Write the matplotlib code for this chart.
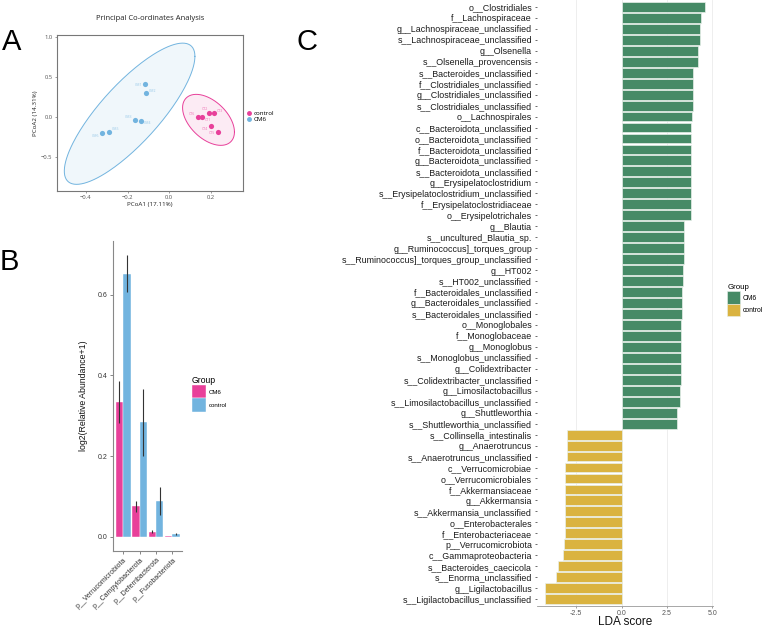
import numpy as np
import matplotlib
matplotlib.use('Agg')
import matplotlib.pyplot as plt
from matplotlib.patches import Patch
from matplotlib.lines import Line2D

plt.rcParams['font.family'] = ['Liberation Sans', 'DejaVu Sans']

# ---- panel A: PCoA ----
cm6_x = [-0.116, -0.112, -0.165, -0.136, -0.288, -0.324]
cm6_y = [0.41, 0.30, -0.04, -0.05, -0.195, -0.21]
cm6_lab = ['CM1', 'CM2', 'CM3', 'CM4', 'CM5', 'CM6']
ctrl_x = [0.137, 0.156, 0.194, 0.215, 0.200, 0.235]
ctrl_y = [-0.004, -0.01, 0.04, 0.04, -0.12, -0.19]
ctrl_lab = ['CT6', 'CT1', 'CT2', 'CT3', 'CT4', 'CT5']

# ---- panel B: phylum abundance ----
phyla = ['p__Verrucomicrobiota', 'p__Campylobacterota', 'p__Deferribacterota', 'p__Fusobacteriota']
b_cm6 = [0.335, 0.075, 0.012, 0.001]
b_cm6_err = [0.052, 0.014, 0.004, 0.0005]
b_ctrl = [0.652, 0.284, 0.088, 0.007]
b_ctrl_err = [0.046, 0.083, 0.035, 0.002]

# ---- panel C: LEfSe ----
lda_taxa = [
    'o__Clostridiales', 'f__Lachnospiraceae', 'g__Lachnospiraceae_unclassified',
    's__Lachnospiraceae_unclassified', 'g__Olsenella', 's__Olsenella_provencensis',
    's__Bacteroides_unclassified', 'f__Clostridiales_unclassified', 'g__Clostridiales_unclassified',
    's__Clostridiales_unclassified', 'o__Lachnospirales', 'c__Bacteroidota_unclassified',
    'o__Bacteroidota_unclassified', 'f__Bacteroidota_unclassified', 'g__Bacteroidota_unclassified',
    's__Bacteroidota_unclassified', 'g__Erysipelatoclostridium', 's__Erysipelatoclostridium_unclassified',
    'f__Erysipelatoclostridiaceae', 'o__Erysipelotrichales', 'g__Blautia',
    's__uncultured_Blautia_sp.', 'g__Ruminococcus]_torques_group', 's__Ruminococcus]_torques_group_unclassified',
    'g__HT002', 's__HT002_unclassified', 'f__Bacteroidales_unclassified',
    'g__Bacteroidales_unclassified', 's__Bacteroidales_unclassified', 'o__Monoglobales',
    'f__Monoglobaceae', 'g__Monoglobus', 's__Monoglobus_unclassified',
    'g__Colidextribacter', 's__Colidextribacter_unclassified', 'g__Limosilactobacillus',
    's__Limosilactobacillus_unclassified', 'g__Shuttleworthia', 's__Shuttleworthia_unclassified',
    's__Collinsella_intestinalis', 'g__Anaerotruncus', 's__Anaerotruncus_unclassified',
    'c__Verrucomicrobiae', 'o__Verrucomicrobiales', 'f__Akkermansiaceae',
    'g__Akkermansia', 's__Akkermansia_unclassified', 'o__Enterobacterales',
    'f__Enterobacteriaceae', 'p__Verrucomicrobiota', 'c__Gammaproteobacteria',
    's__Bacteroides_caecicola', 's__Enorma_unclassified', 'g__Ligilactobacillus',
    's__Ligilactobacillus_unclassified']
lda_score = [
    4.59, 4.37, 4.30, 4.30, 4.20, 4.20, 3.95, 3.91, 3.91, 3.91, 3.87, 3.82, 3.82, 3.82, 3.82,
    3.82, 3.80, 3.80, 3.80, 3.80, 3.45, 3.43, 3.43, 3.43, 3.38, 3.38, 3.30, 3.30, 3.30, 3.28,
    3.28, 3.28, 3.28, 3.25, 3.25, 3.19, 3.19, 3.07, 3.07,
    -3.01, -3.03, -3.03, -3.09, -3.09, -3.09, -3.09, -3.09, -3.09, -3.11, -3.18, -3.25,
    -3.51, -3.60, -4.22, -4.22]
lda_group = ['CM6' if v > 0 else 'control' for v in lda_score]

PINK = '#E8409A'
BLUE = '#72B4DF'
GREEN = '#468A66'
YELLOW = '#DAB340'

W, H = 762, 627
fig = plt.figure(figsize=(W / 100, H / 100), dpi=100)


def box(l, t, r, b):
    return [l / W, 1 - b / H, (r - l) / W, (b - t) / H]


def ellipse(x, y, n=200):
    pts = np.column_stack([x, y])
    c = pts.mean(axis=0)
    cov = np.cov(pts.T)
    rad = np.sqrt(2 * 5.786)  # 2 * F(0.95; 2, 5)
    t = np.linspace(0, 2 * np.pi, n)
    circ = np.column_stack([np.cos(t), np.sin(t)])
    e = c + rad * circ @ np.linalg.cholesky(cov).T
    return e[:, 0], e[:, 1]


# ---------------- A ----------------
afont = ['Open Sans', 'DejaVu Sans']
axA = fig.add_axes(box(56.7, 35, 242.7, 191))
for xs, ys, col in [(cm6_x, cm6_y, BLUE), (ctrl_x, ctrl_y, PINK)]:
    ex, ey = ellipse(xs, ys)
    axA.fill(ex, ey, color=col, alpha=0.1, lw=0)
    axA.plot(ex, ey, color=col, lw=0.7)
    axA.scatter(xs, ys, s=14, color=col, zorder=3, lw=0)

offs_cm6 = [(-2, -1, 'right'), (2, 1, 'left'), (-2, 2, 'right'), (2, -2, 'left'), (2, 2, 'left'), (-2, -2, 'right')]
offs_ctrl = [(-2, 2, 'right'), (2, -2, 'left'), (-1, 3, 'right'), (2, 2, 'left'), (-2, -2, 'right'), (-2, -1, 'right')]
for xs, ys, labs, offs, col in [(cm6_x, cm6_y, cm6_lab, offs_cm6, BLUE),
                                (ctrl_x, ctrl_y, ctrl_lab, offs_ctrl, PINK)]:
    for xx, yy, lb, (dx, dy, ha) in zip(xs, ys, labs, offs):
        axA.annotate(lb, (xx, yy), xytext=(dx, dy), textcoords='offset points',
                     fontsize=2.5, color=col, alpha=0.7, ha=ha, va='center', family=afont)

axA.set_xlim(-0.541, 0.354)
axA.set_ylim(-0.93, 1.02)
axA.set_xticks([-0.4, -0.2, 0.0, 0.2])
axA.set_yticks([-0.5, 0.0, 0.5, 1.0])
axA.tick_params(labelsize=4.2, length=1.5, width=0.4, colors='#555555', pad=1.5)
for lab in axA.get_xticklabels() + axA.get_yticklabels():
    lab.set_family(afont)
for s in axA.spines.values():
    s.set_color('#777777')
    s.set_linewidth(0.8)
axA.set_xlabel('PCoA1 (17.11%)', fontsize=4.5, family=afont, labelpad=1, color='#222222')
axA.set_ylabel('PCoA2 (14.31%)', fontsize=4.5, family=afont, labelpad=2, color='#222222')
axA.set_title('Principal Co-ordinates Analysis', fontsize=5.5, family=afont, pad=11, color='#222222')
legA = axA.legend(handles=[Line2D([], [], marker='o', ls='', color=PINK, markersize=2.5),
                           Line2D([], [], marker='o', ls='', color=BLUE, markersize=2.5)],
                  labels=['control', 'CM6'], loc='center left', bbox_to_anchor=(1.0, 0.48),
                  frameon=False, handlelength=0.6, handletextpad=0.4,
                  labelspacing=0.1, borderaxespad=0.3, prop={'family': afont, 'size': 4.5})

# ---------------- B ----------------
axB = fig.add_axes(box(113.3, 241, 182.3, 550.8))
xb = np.arange(len(phyla))
bw = 0.45
axB.bar(xb - bw / 2, b_cm6, width=bw, color=PINK, edgecolor='white', lw=0.3, label='CM6')
axB.bar(xb + bw / 2, b_ctrl, width=bw, color=BLUE, edgecolor='white', lw=0.3, label='control')
axB.errorbar(xb - bw / 2, b_cm6, yerr=b_cm6_err, fmt='none', ecolor='#333333', elinewidth=0.8, capsize=0)
axB.errorbar(xb + bw / 2, b_ctrl, yerr=b_ctrl_err, fmt='none', ecolor='#333333', elinewidth=0.8, capsize=0)
axB.set_xlim(-0.6, len(phyla) - 0.4)
axB.set_ylim(-0.035, 0.733)
axB.set_yticks([0.0, 0.2, 0.4, 0.6])
axB.set_yticklabels(['0.0', '0.2', '0.4', '0.6'])
axB.set_xticks(xb)
axB.set_xticklabels(phyla, rotation=45, ha='right', rotation_mode='anchor')
axB.tick_params(labelsize=5, length=2, width=0.5, colors='#555555', labelcolor='#333333', pad=2)
for s in ('top', 'right'):
    axB.spines[s].set_visible(False)
for s in ('left', 'bottom'):
    axB.spines[s].set_color('#888888')
    axB.spines[s].set_linewidth(0.8)
axB.set_ylabel('log2(Relative Abundance+1)', fontsize=6.3, labelpad=7, color='#111111')
legB = fig.legend(handles=[Patch(facecolor=PINK, edgecolor='white', lw=0.3),
                           Patch(facecolor=BLUE, edgecolor='white', lw=0.3)],
                  labels=['CM6', 'control'], title='Group', loc='upper left',
                  bbox_to_anchor=(189 / W, 1 - 373 / H), frameon=False,
                  fontsize=4.4, title_fontsize=6.2, handlelength=2.3, handleheight=3.0,
                  labelspacing=0.0, handletextpad=0.5, borderpad=0, alignment='left')

# ---------------- C ----------------
axC = fig.add_axes(box(536.7, 0.3, 713.2, 605.7))
yc = np.arange(len(lda_taxa))
ccol = [GREEN if g == 'CM6' else YELLOW for g in lda_group]
axC.barh(yc, lda_score, height=0.9, color=ccol, edgecolor='#E8F0EA', lw=0.5, zorder=2)
axC.set_ylim(len(lda_taxa) - 0.4, -0.6)
axC.set_xlim(-4.67, 5.04)
axC.set_yticks(yc)
axC.set_yticklabels(lda_taxa)
axC.set_xticks([-2.5, 0.0, 2.5, 5.0])
axC.set_xticklabels(['-2.5', '0.0', '2.5', '5.0'])
axC.tick_params(axis='y', labelsize=6.4, length=1.8, width=0.5, color='#333333', labelcolor='#1a1a1a', pad=1.5)
axC.tick_params(axis='x', labelsize=5, length=1.5, width=0.5, color='#777777', labelcolor='#555555', pad=1.5)
axC.grid(axis='x', color='#EBEBEB', lw=0.6, zorder=0)
axC.set_axisbelow(True)
for s in ('top', 'right', 'left'):
    axC.spines[s].set_visible(False)
axC.spines['bottom'].set_color('#999999')
axC.spines['bottom'].set_linewidth(0.6)
axC.set_xlabel('LDA score', fontsize=8.5, labelpad=-0.5, color='#111111')
legC = fig.legend(handles=[Patch(facecolor=GREEN, edgecolor='#E8F0EA', lw=0.4),
                           Patch(facecolor=YELLOW, edgecolor='#E8F0EA', lw=0.4)],
                  labels=['CM6', 'control'], title='Group', loc='upper left',
                  bbox_to_anchor=(724 / W, 1 - 281 / H), frameon=False,
                  fontsize=4.9, title_fontsize=5.7, handlelength=1.8, handleheight=2.4,
                  labelspacing=0.0, handletextpad=0.5, borderpad=0, alignment='left')

# panel letters
fig.text(2 / W, 1 - 50 / H, 'A', fontsize=21, ha='left', va='baseline')
fig.text(0 / W, 1 - 270 / H, 'B', fontsize=21, ha='left', va='baseline')
fig.text(297 / W, 1 - 50 / H, 'C', fontsize=21, ha='left', va='baseline')

fig.savefig('out.png', dpi=100)
